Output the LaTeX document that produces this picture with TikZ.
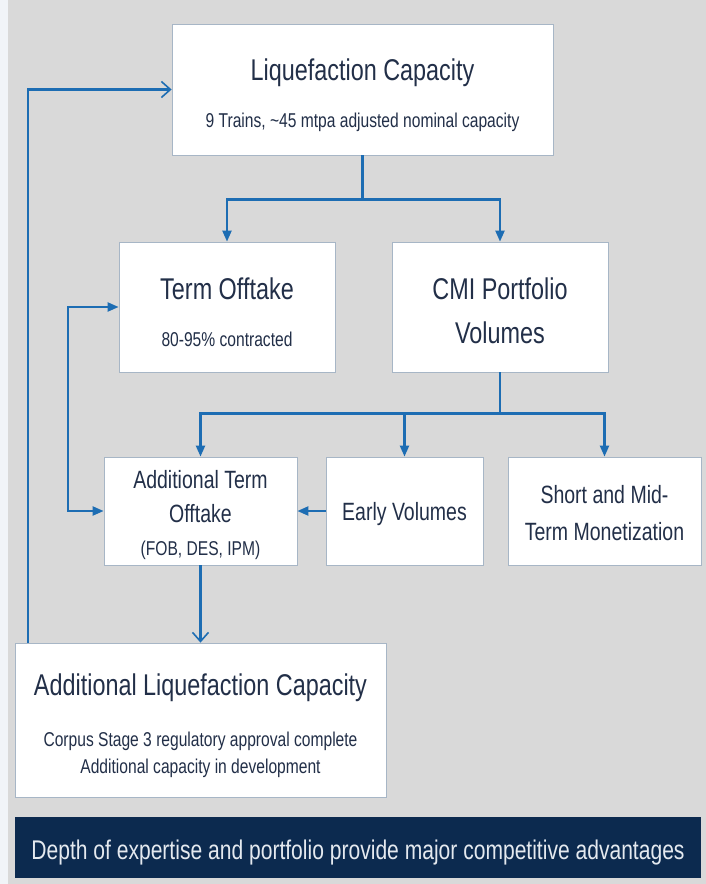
\documentclass[tikz,border=0pt]{standalone}
\usepackage{fontspec}
\setmainfont{Liberation Sans}[FakeStretch=0.78]
\usetikzlibrary{arrows.meta}
\definecolor{bggray}{HTML}{D9D9D9}
\definecolor{edgegray}{HTML}{F1F4F8}
\definecolor{flowblue}{HTML}{1D6DB3}
\definecolor{inkblue}{HTML}{222F48}
\definecolor{boxline}{HTML}{A7B6C6}
\definecolor{navy}{HTML}{0C2A4F}
\definecolor{bannertxt}{HTML}{E4E9EF}
\newcommand{\boxnote}{\fontsize{20}{20}\selectfont}
\newcommand{\boxmid}{\fontsize{25}{25}\selectfont}
\begin{document}
\begin{tikzpicture}[x=1pt,y=-1pt]
\tikzstyle{plain box}=[rectangle,draw=boxline,line width=0.8pt,fill=white,text=inkblue,align=center,inner sep=0pt,text depth=0pt]
\tikzstyle{flow}=[draw=flowblue,line width=2.2pt]
\tikzset{
	fill arrow/.style={flow,-{Triangle[width=9pt,length=11pt]}},
	both arrow/.style={flow,{Triangle[width=9pt,length=11pt]}-{Triangle[width=9pt,length=11pt]}},
	open arrow/.style={flow,-{Straight Barb[width=16pt,length=9pt,line width=1.6pt]}}
}
\useasboundingbox (0,0) rectangle (706,884);
\fill[edgegray] (0,0) rectangle (8,884);
\fill[bggray] (8,0) rectangle (706,884);

\node[plain box,minimum width=381pt,minimum height=131pt,text height=75pt,font=\fontsize{30}{47}\selectfont] (liq) at (362.5,89.5)
	{Liquefaction Capacity\\{\boxnote 9 Trains, \textasciitilde45 mtpa adjusted nominal capacity}};
\node[plain box,minimum width=216pt,minimum height=130pt,text height=78pt,font=\fontsize{30}{47}\selectfont] (term) at (227,307)
	{Term Offtake\\{\boxnote 80-95\% contracted}};
\node[plain box,minimum width=216pt,minimum height=130pt,text height=72pt,font=\fontsize{30}{44}\selectfont] (cmi) at (500,307)
	{CMI Portfolio\\Volumes};
\node[plain box,minimum width=193pt,minimum height=108pt,text height=88pt,font=\fontsize{25}{33}\selectfont] (addterm) at (200.5,511)
	{Additional Term\\[1pt]Offtake\\{\boxnote (FOB, DES, IPM)}};
\node[plain box,minimum width=157pt,minimum height=108pt,text height=18pt,font=\boxmid] (early) at (404.5,511)
	{Early Volumes};
\node[plain box,minimum width=193pt,minimum height=108pt,text height=58pt,font=\fontsize{25}{37}\selectfont] (short) at (604.5,511)
	{Short and Mid-\\Term Monetization};
\node[plain box,minimum width=371pt,minimum height=154pt,text height=106pt,font=\fontsize{30}{27}\selectfont] (addliq) at (200.5,720)
	{Additional Liquefaction Capacity\\[24pt]{\boxnote Corpus Stage 3 regulatory approval complete}\\{\boxnote Additional capacity in development}};
\node[rectangle,fill=navy,text=bannertxt,minimum width=686pt,minimum height=61pt,inner sep=0pt,text height=23pt,text depth=0pt,font=\fontsize{27}{27}\selectfont] (banner) at (358,847.5)
	{Depth of expertise and portfolio provide major competitive advantages};

% liquefaction feeds the two outlets
\draw[flow] (liq.south) -- ++(0,44) coordinate (split1);
\draw[fill arrow] (split1) -| (term.north);
\draw[fill arrow] (split1) -| (cmi.north);
% CMI portfolio splits three ways
\draw[flow] (cmi.south) -- ++(0,41) coordinate (split2);
\draw[fill arrow] (split2) -| (addterm.north);
\draw[fill arrow] (split2) -| (early.north);
\draw[fill arrow] (split2) -| (short.north);
\draw[fill arrow] (early.west) -- (addterm.east);
\draw[both arrow] (term.west) -- ++(-51,0) |- (addterm.west);
% back to the start
\draw[open arrow] (addterm.south) -- (addliq.north);
\draw[open arrow] ([xshift=13pt]addliq.north west) |- (liq.west);
\end{tikzpicture}
\end{document}
